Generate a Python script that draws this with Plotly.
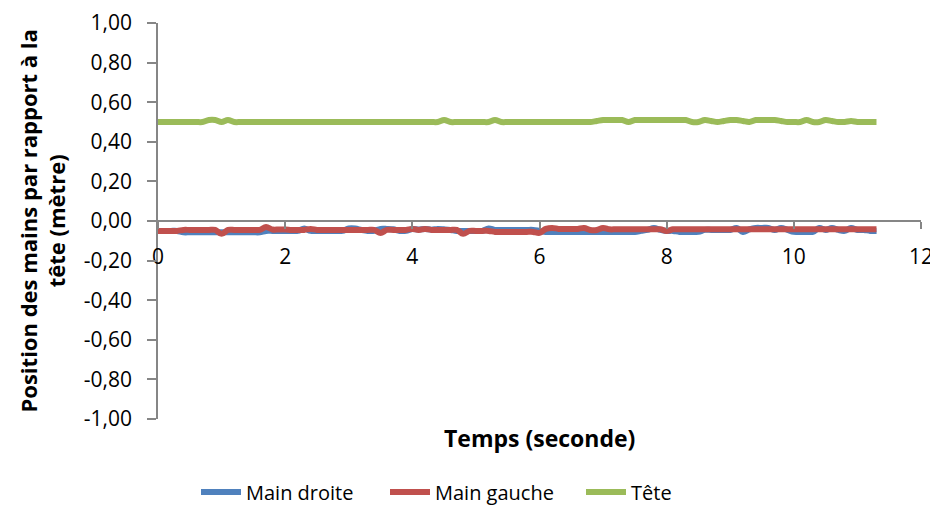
import plotly.graph_objects as go

# Time (s), 0.1 s steps
temps = [0.0, 0.1, 0.2, 0.3, 0.4, 0.5, 0.6, 0.7, 0.8, 0.9,
         1.0, 1.1, 1.2, 1.3, 1.4, 1.5, 1.6, 1.7, 1.8, 1.9,
         2.0, 2.1, 2.2, 2.3, 2.4, 2.5, 2.6, 2.7, 2.8, 2.9,
         3.0, 3.1, 3.2, 3.3, 3.4, 3.5, 3.6, 3.7, 3.8, 3.9,
         4.0, 4.1, 4.2, 4.3, 4.4, 4.5, 4.6, 4.7, 4.8, 4.9,
         5.0, 5.1, 5.2, 5.3, 5.4, 5.5, 5.6, 5.7, 5.8, 5.9,
         6.0, 6.1, 6.2, 6.3, 6.4, 6.5, 6.6, 6.7, 6.8, 6.9,
         7.0, 7.1, 7.2, 7.3, 7.4, 7.5, 7.6, 7.7, 7.8, 7.9,
         8.0, 8.1, 8.2, 8.3, 8.4, 8.5, 8.6, 8.7, 8.8, 8.9,
         9.0, 9.1, 9.2, 9.3, 9.4, 9.5, 9.6, 9.7, 9.8, 9.9,
         10.0, 10.1, 10.2, 10.3, 10.4, 10.5, 10.6, 10.7, 10.8, 10.9,
         11.0, 11.1, 11.2, 11.3]

main_droite = [-0.050, -0.050, -0.050, -0.050, -0.057, -0.057, -0.057, -0.057, -0.057, -0.057,
               -0.057, -0.057, -0.057, -0.057, -0.057, -0.057, -0.057, -0.050, -0.050, -0.050,
               -0.050, -0.050, -0.050, -0.038, -0.050, -0.050, -0.050, -0.050, -0.050, -0.050,
               -0.038, -0.038, -0.045, -0.050, -0.050, -0.040, -0.040, -0.042, -0.050, -0.050,
               -0.040, -0.043, -0.040, -0.044, -0.040, -0.042, -0.045, -0.050, -0.050, -0.050,
               -0.050, -0.050, -0.038, -0.045, -0.045, -0.045, -0.045, -0.045, -0.045, -0.045,
               -0.050, -0.055, -0.055, -0.055, -0.055, -0.055, -0.055, -0.055, -0.055, -0.055,
               -0.055, -0.055, -0.055, -0.055, -0.055, -0.055, -0.050, -0.045, -0.035, -0.045,
               -0.050, -0.050, -0.055, -0.055, -0.055, -0.055, -0.045, -0.045, -0.045, -0.045,
               -0.045, -0.035, -0.055, -0.042, -0.035, -0.035, -0.035, -0.045, -0.035, -0.045,
               -0.055, -0.055, -0.055, -0.055, -0.035, -0.045, -0.035, -0.045, -0.050, -0.035,
               -0.045, -0.045, -0.050, -0.050]

main_gauche = [-0.050, -0.050, -0.050, -0.050, -0.045, -0.045, -0.045, -0.045, -0.045, -0.045,
               -0.065, -0.045, -0.045, -0.045, -0.045, -0.045, -0.045, -0.030, -0.043, -0.043,
               -0.043, -0.045, -0.045, -0.045, -0.040, -0.045, -0.045, -0.045, -0.045, -0.045,
               -0.045, -0.045, -0.045, -0.045, -0.045, -0.060, -0.045, -0.045, -0.045, -0.045,
               -0.040, -0.045, -0.040, -0.045, -0.045, -0.045, -0.045, -0.045, -0.065, -0.050,
               -0.050, -0.050, -0.050, -0.055, -0.055, -0.055, -0.055, -0.055, -0.055, -0.055,
               -0.060, -0.040, -0.035, -0.040, -0.040, -0.040, -0.040, -0.035, -0.045, -0.045,
               -0.035, -0.042, -0.042, -0.042, -0.042, -0.042, -0.042, -0.042, -0.042, -0.042,
               -0.050, -0.042, -0.042, -0.042, -0.042, -0.042, -0.042, -0.042, -0.042, -0.042,
               -0.042, -0.042, -0.042, -0.042, -0.042, -0.042, -0.042, -0.042, -0.042, -0.042,
               -0.042, -0.042, -0.042, -0.042, -0.042, -0.042, -0.042, -0.042, -0.042, -0.042,
               -0.042, -0.042, -0.042, -0.042]

tete = [0.500, 0.500, 0.500, 0.500, 0.500, 0.500, 0.500, 0.500, 0.510, 0.510,
        0.500, 0.510, 0.500, 0.500, 0.500, 0.500, 0.500, 0.500, 0.500, 0.500,
        0.500, 0.500, 0.500, 0.500, 0.500, 0.500, 0.500, 0.500, 0.500, 0.500,
        0.500, 0.500, 0.500, 0.500, 0.500, 0.500, 0.500, 0.500, 0.500, 0.500,
        0.500, 0.500, 0.500, 0.500, 0.500, 0.510, 0.500, 0.500, 0.500, 0.500,
        0.500, 0.500, 0.500, 0.510, 0.500, 0.500, 0.500, 0.500, 0.500, 0.500,
        0.500, 0.500, 0.500, 0.500, 0.500, 0.500, 0.500, 0.500, 0.500, 0.505,
        0.510, 0.510, 0.510, 0.510, 0.500, 0.510, 0.510, 0.510, 0.510, 0.510,
        0.510, 0.510, 0.510, 0.510, 0.500, 0.500, 0.510, 0.505, 0.500, 0.505,
        0.510, 0.510, 0.505, 0.500, 0.510, 0.510, 0.510, 0.510, 0.505, 0.500,
        0.500, 0.500, 0.510, 0.500, 0.500, 0.510, 0.505, 0.500, 0.500, 0.505,
        0.500, 0.500, 0.500, 0.500]

series_names = ["Main droite", "Main gauche", "Tête"]
series_colors = ["#4F81BD", "#C0504D", "#9BBB59"]

y_tickvals = [1.0, 0.8, 0.6, 0.4, 0.2, 0.0, -0.2, -0.4, -0.6, -0.8, -1.0]
y_ticktext = ["1,00", "0,80", "0,60", "0,40", "0,20", "0,00",
              "-0,20", "-0,40", "-0,60", "-0,80", "-1,00"]
x_tickvals = [0, 2, 4, 6, 8, 10, 12]
x_ticktext = ["0", "2", "4", "6", "8", "10", "12"]

FONT = "Open Sans"
AXIS = "#868686"
# the page body has an 8 px margin, so the figure is drawn 8 px in from the window corner
W, H = 930, 499
L, T, R, B = 150, 15, 17, 88
PW, PH = W - L - R, H - T - B

fig = go.Figure()
legend_ids = ["legend", "legend2", "legend3"]
for name, vals, col, lg in zip(series_names, [main_droite, main_gauche, tete],
                               series_colors, legend_ids):
    fig.add_trace(go.Scatter(x=temps, y=vals, mode="lines", name=name, legend=lg,
                             line=dict(color=col, width=6, shape="spline")))

legend_left_px = [188, 377, 573]
legend_common = dict(orientation="h", xref="container", yref="container",
                     y=(H - 484) / H, yanchor="middle", xanchor="left",
                     font=dict(family=FONT, size=20, color="black"), itemwidth=40,
                     bgcolor="rgba(0,0,0,0)", borderwidth=0)

fig.update_layout(
    width=W, height=H,
    margin=dict(l=L, r=R, t=T, b=B),
    paper_bgcolor="white", plot_bgcolor="white",
    font=dict(family=FONT, size=20, color="black"),
    showlegend=True,
    legend=dict(x=legend_left_px[0] / W, **legend_common),
    legend2=dict(x=legend_left_px[1] / W, **legend_common),
    legend3=dict(x=legend_left_px[2] / W, **legend_common),
    xaxis=dict(range=[0, 12], anchor="free", position=0.5, automargin=False,
               tickvals=x_tickvals, ticktext=x_ticktext,
               showline=True, linecolor=AXIS, linewidth=1.5,
               ticks="outside", ticklen=7, tickcolor=AXIS, tickwidth=1.5,
               showgrid=False, zeroline=False, ticklabelstandoff=10,
               tickfont=dict(size=21)),
    yaxis=dict(range=[-1, 1], tickvals=y_tickvals, ticktext=y_ticktext, automargin=False,
               showline=True, linecolor=AXIS, linewidth=1.5,
               ticks="outside", ticklen=9, tickcolor=AXIS, tickwidth=1.5,
               showgrid=False, zeroline=False, ticklabelstandoff=11,
               tickfont=dict(size=21)),
    annotations=[
        dict(text="<b>Position des mains par rapport à la<br>tête (mètre)</b>",
             textangle=-90, x=(33.5 - L) / PW, y=0.5, xref="paper", yref="paper",
             xanchor="center", yanchor="middle", showarrow=False,
             font=dict(family=FONT, size=22, color="black")),
        dict(text="<b>Temps (seconde)</b>", x=0.5, y=-(430 - (T + PH)) / PH,
             xref="paper", yref="paper", xanchor="center", yanchor="middle",
             showarrow=False, font=dict(family=FONT, size=23, color="black")),
    ],
)

fig.write_html("out.html")
